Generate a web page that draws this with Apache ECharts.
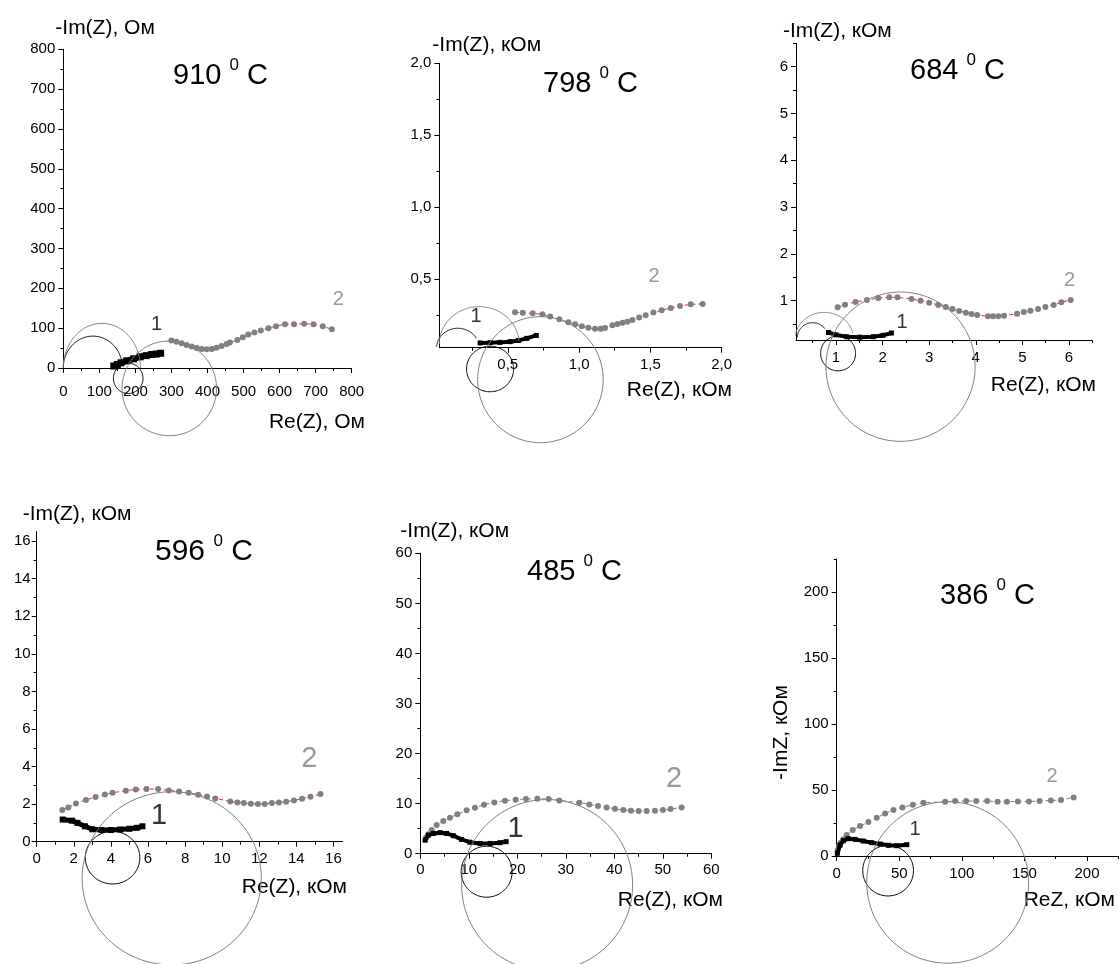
<!DOCTYPE html>
<html><head><meta charset="utf-8">
<script src="https://cdn.jsdelivr.net/npm/echarts@6/dist/echarts.min.js"></script>
<style>html,body{margin:0;padding:0;background:#fff}#c{width:1119px;height:964px}</style>
</head><body><div id="c"></div>
<script>
// ---------- DATA ----------
// 910 C  (Ом)
const s1_910 = [[140,5],[150,9],[160,13],[176,18],[195,23],[213,28],[230,31],[245,34],[258,35],[270,37]];
const s2_910 = [[300,69],[314,66],[328,62],[342,58],[356,54],[370,50],[384,48],[398,47],[412,48],[425,51],[439,55],[453,60],[462,64],[483,70],[498,77],[513,84],[530,89],[548,94],[569,100],[590,105],[615,110],[640,110],[668,111],[694,110],[720,105],[745,97]];
const arcB_910 = [[82,0,82,80,180,8],[180,-26,41,38,0,360]];
const arcG_910 = [[107,0,107,112,180,0],[294,-51,131,119,0,360]];
const xLab_910 = [0,100,200,300,400,500,600,700,800];
const xMin_910 = [50,150,250,350,450,550,650,750];
const yLab_910 = [0,100,200,300,400,500,600,700,800];
const yMin_910 = [50,150,250,350,450,550,650,750];
const lab_910 = [[259,110],[763,171]];

// 798 C (кОм)
const s1_798 = [[0.306,0.058],[0.376,0.060],[0.446,0.062],[0.516,0.067],[0.575,0.075],[0.633,0.090],[0.70,0.110]];
const s2_798 = [[0.551,0.271],[0.605,0.268],[0.675,0.264],[0.743,0.257],[0.797,0.241],[0.862,0.222],[0.925,0.201],[0.972,0.188],[1.019,0.174],[1.065,0.164],[1.112,0.157],[1.152,0.157],[1.182,0.162],[1.234,0.181],[1.269,0.190],[1.304,0.199],[1.339,0.206],[1.374,0.218],[1.421,0.234],[1.467,0.250],[1.521,0.269],[1.579,0.285],[1.643,0.301],[1.708,0.315],[1.783,0.326],[1.867,0.329]];
const arcB_798 = [[0.15,0.02,0.15,0.14,175,30],[0.376,-0.123,0.165,0.158,0,360]];
const arcG_798 = [[0.30,0.05,0.28,0.26,180,5],[0.729,-0.197,0.44,0.4375,0,360]];
const xLab_798 = [0.5,1.0,1.5,2.0];
const xMin_798 = [0.25,0.75,1.25,1.75];
const yLab_798 = [0.5,1.0,1.5,2.0];
const yMin_798 = [0.25,0.75,1.25,1.75];
const lab_798 = [[0.278,0.245],[1.526,0.523]];

// 684 C
const s1_684 = [[0.84,0.32],[1.0,0.27],[1.23,0.23],[1.51,0.22],[1.8,0.23],[2.01,0.26],[2.19,0.31]];
const s2_684 = [[1.036,0.858],[1.193,0.915],[1.421,0.972],[1.664,1.015],[1.907,1.058],[2.143,1.072],[2.321,1.072],[2.621,1.036],[2.814,1.001],[3.0,0.958],[3.193,0.908],[3.357,0.865],[3.5,0.823],[3.643,0.780],[3.786,0.744],[3.907,0.716],[4.029,0.694],[4.264,0.666],[4.371,0.666],[4.486,0.666],[4.607,0.680],[4.886,0.723],[5.029,0.758],[5.171,0.787],[5.336,0.822],[5.493,0.865],[5.671,0.908],[5.836,0.965],[6.036,1.015]];
const arcB_684 = [[0.5,0.2,0.33,0.33,177,38],[1.046,-0.125,0.375,0.374,0,360]];
const arcG_684 = [[0.75,0.2,0.62,0.55,174,12],[2.386,-0.41,1.6,1.595,0,360]];
const xLab_684 = [1,2,3,4,5,6];
const xMin_684 = [0.5,1.5,2.5,3.5,4.5,5.5,6.5];
const yLab_684 = [1,2,3,4,5,6];
const yMin_684 = [0.5,1.5,2.5,3.5,4.5,5.5,6.5];
const lab_684 = [[2.42,0.53],[6.01,1.44]];

// 596 C
const s1_596 = [[1.4,1.18],[1.9,1.12],[2.2,1.0],[2.6,0.82],[3.0,0.66],[3.5,0.62],[4.0,0.62],[4.5,0.65],[5.0,0.69],[5.4,0.74],[5.7,0.82]];
const s2_596 = [[1.381,1.684],[1.704,1.826],[2.117,2.039],[2.655,2.216],[3.175,2.376],[3.677,2.518],[4.090,2.606],[4.807,2.713],[5.345,2.784],[5.919,2.801],[6.547,2.801],[7.121,2.730],[7.677,2.677],[8.197,2.606],[8.700,2.500],[9.184,2.411],[9.632,2.305],[10.44,2.145],[10.82,2.092],[11.17,2.057],[11.55,2.021],[11.93,2.004],[12.30,2.004],[12.68,2.057],[13.06,2.092],[13.45,2.128],[13.87,2.199],[14.31,2.287],[14.76,2.394],[15.30,2.535]];
const arcB_596 = [[4.09,-0.85,1.47,1.40,0,360]];
const arcG_596 = [[7.28,-1.95,4.83,4.61,0,360]];
const xLab_596 = [0,2,4,6,8,10,12,14,16];
const xMin_596 = [1,3,5,7,9,11,13,15];
const yLab_596 = [0,2,4,6,8,10,12,14,16];
const yMin_596 = [1,3,5,7,9,11,13,15];
const lab_596 = [[6.6,1.35],[14.7,4.41]];

// 485 C
const s1_485 = [[1.0,2.7],[1.65,3.7],[2.7,4.05],[4.1,4.2],[5.4,4.05],[6.8,3.6],[8.5,2.85],[10.2,2.3],[12.3,2.05],[14.4,2.05],[16.4,2.2],[17.7,2.4]];
const s2_485 = [[1.17,3.20],[1.65,3.86],[2.34,4.73],[3.37,5.73],[4.74,6.52],[6.12,7.19],[7.63,7.86],[9.55,8.66],[11.27,9.19],[13.13,9.79],[15.26,10.25],[17.46,10.59],[19.66,10.79],[21.79,10.92],[24.12,10.99],[26.46,10.92],[28.66,10.65],[32.78,10.19],[34.85,9.85],[36.63,9.52],[38.42,9.25],[40.14,8.99],[41.86,8.72],[43.44,8.59],[45.02,8.52],[46.67,8.52],[48.38,8.59],[50.03,8.72],[51.61,8.92],[53.88,9.25]];
const arcB_485 = [[13.68,-3.6,5.26,5.09,0,360]];
const arcG_485 = [[26.15,-6.26,17.63,17.08,0,360]];
const xLab_485 = [0,10,20,30,40,50,60];
const xMin_485 = [5,15,25,35,45,55];
const yLab_485 = [0,10,20,30,40,50,60];
const yMin_485 = [5,15,25,35,45,55];
const lab_485 = [[19.66,4.86],[52.3,14.85]];

// 386 C
const s1_386 = [[0.5,2],[2.7,8.3],[5.3,11.6],[9.3,13.1],[14.7,12.6],[21.3,11.35],[28,10.1],[34.7,9.1],[41.3,8.1],[48,7.8],[56,8.6]];
const s2_386 = [[0.8,4.54],[1.87,7.57],[3.2,10.09],[5.33,12.61],[8.0,15.89],[12.8,19.67],[18.67,22.7],[25.33,25.73],[32.0,29.0],[38.67,32.28],[45.33,34.8],[52.53,36.82],[60.8,38.84],[69.33,40.35],[86.67,41.11],[94.67,41.61],[103.47,41.61],[111.47,41.61],[120.27,41.61],[128.53,41.11],[136.0,41.11],[144.8,41.36],[153.6,41.36],[162.13,41.61],[171.2,42.12],[179.2,42.37],[189.33,44.39]];
const arcB_386 = [[41.07,-11.1,20.27,19.17,0,360]];
const arcG_386 = [[88.67,-20.05,64.67,61.16,0,360]];
const xLab_386 = [0,50,100,150,200];
const xMin_386 = [25,75,125,175,225];
const yLab_386 = [0,50,100,150,200];
const yMin_386 = [25,75,125,175,225];
const lab_386 = [[62.7,20.2],[172,60.5]];

// ---------- LAYOUT / STYLE ----------
const FONT = '"Liberation Sans", Arial, sans-serif';
const panels = [
 {t:'910', s1:s1_910, s2:s2_910, aB:arcB_910, aG:arcG_910, xl:xLab_910, xm:xMin_910, yl:yLab_910, ym:yMin_910, lab:lab_910,
  grid:{left:63.3,top:49.3,width:288.4,height:318.7}, xr:[0,800], yr:[0,800], comma:false,
  xName:'Re(Z), Ом', yName:'-Im(Z), Ом', xMar:16, yMar:8, xNG:13.3, xNP:44, yNG:21, yNP:-8,
  title:{left:173,top:57,size:29}, labSize:20, red:true, bw:7},
 {t:'798', s1:s1_798, s2:s2_798, aB:arcB_798, aG:arcG_798, xl:xLab_798, xm:xMin_798, yl:yLab_798, ym:yMin_798, lab:lab_798,
  grid:{left:439.3,top:63.3,width:282.4,height:284.4}, xr:[0.02,2.0], yr:[0.025,2.0], comma:true,
  xName:'Re(Z), кОм', yName:'-Im(Z), кОм', xMar:10, yMar:8, xNG:10.3, xNP:32, yNG:18, yNP:-7,
  title:{left:543,top:65,size:29}, labSize:20, red:true, bw:5},
 {t:'684', s1:s1_684, s2:s2_684, aB:arcB_684, aG:arcG_684, xl:xLab_684, xm:xMin_684, yl:yLab_684, ym:yMin_684, lab:lab_684,
  grid:{left:796,top:43.3,width:296.3,height:296.7}, xr:[0.143,6.5], yr:[0.16,6.5], comma:false,
  xName:'Re(Z), кОм', yName:'-Im(Z), кОм', xMar:10, yMar:8, xNG:3.7, xNP:35, yNG:12, yNP:-13,
  title:{left:910,top:52,size:29}, labSize:20, red:true, bw:5},
 {t:'596', s1:s1_596, s2:s2_596, aB:arcB_596, aG:arcG_596, xl:xLab_596, xm:xMin_596, yl:yLab_596, ym:yMin_596, lab:lab_596,
  grid:{left:36.7,top:531.7,width:306,height:310}, xr:[0,16.5], yr:[0,16.5], comma:false,
  xName:'Re(Z), кОм', yName:'-Im(Z), кОм', xMar:10, yMar:6, xNG:4.3, xNP:35, yNG:17, yNP:-14,
  title:{left:155,top:533,size:30}, labSize:29, red:true, bw:6},
 {t:'485', s1:s1_485, s2:s2_485, aB:arcB_485, aG:arcG_485, xl:xLab_485, xm:xMin_485, yl:yLab_485, ym:yMin_485, lab:lab_485,
  grid:{left:420.3,top:553.3,width:291,height:300.4}, xr:[0,60], yr:[0,60], comma:false,
  xName:'Re(Z), кОм', yName:'-Im(Z), кОм', xMar:9, yMar:8, xNG:11.7, xNP:36, yNG:22, yNP:-20,
  title:{left:527,top:553,size:29}, labSize:29, red:false, bw:5},
 {t:'386', s1:s1_386, s2:s2_386, aB:arcB_386, aG:arcG_386, xl:xLab_386, xm:xMin_386, yl:yLab_386, ym:yMin_386, lab:lab_386,
  grid:{left:836.7,top:559,width:281.6,height:297}, xr:[0,225], yr:[0,225], comma:false,
  xName:'ReZ, кОм', yName:'-ImZ, кОм', xMar:10, yMar:8, xNG:-3.3, xNP:34, rotY:true,
  title:{left:940,top:577,size:29}, labSize:20, red:false, bw:5}
];

function arcRender(color){
  return function(params, api){
    const cx=api.value(0), cy=api.value(1), rx=api.value(2), ry=api.value(3), a0=api.value(4), a1=api.value(5);
    const pts=[]; const n=120;
    for(let k=0;k<=n;k++){
      const t=(a0+(a1-a0)*k/n)*Math.PI/180;
      pts.push(api.coord([cx+rx*Math.cos(t), cy+ry*Math.sin(t)]));
    }
    return {type:'polyline', shape:{points:pts}, style:{stroke:color, fill:null, lineWidth:1}};
  };
}

const grids=[], xAxes=[], yAxes=[], series=[], titles=[];
panels.forEach((p,i)=>{
  grids.push(Object.assign({containLabel:false}, p.grid));
  const fmt = v => p.comma ? Number(v).toFixed(1).replace('.',',') : String(v);
  const axisCommon = {type:'value', gridIndex:i, splitLine:{show:false}, scale:false};
  // main x
  xAxes.push(Object.assign({}, axisCommon, {
    min:p.xr[0], max:p.xr[1], position:'bottom',
    axisLine:{show:true, onZero:false, lineStyle:{color:'#000', width:1}},
    axisTick:{show:true, length:5, customValues:p.xl, lineStyle:{color:'#000'}},
    axisLabel:{show:true, customValues:p.xl, formatter:fmt, margin:p.xMar, color:'#000', fontSize:15, fontFamily:FONT},
    name:p.xName, nameLocation:'end', nameGap:p.xNG, nameMoveOverlap:false,
    nameTextStyle:{fontSize:21, color:'#000', fontFamily:FONT, align:'right', verticalAlign:'top', padding:[p.xNP,0,0,0]}
  }));
  // minor x
  xAxes.push(Object.assign({}, axisCommon, {
    min:p.xr[0], max:p.xr[1], position:'bottom',
    axisLine:{show:false, onZero:false},
    axisTick:{show:true, length:3, customValues:p.xm, lineStyle:{color:'#000'}},
    axisLabel:{show:false}
  }));
  const yMain = Object.assign({}, axisCommon, {
    min:p.yr[0], max:p.yr[1], position:'left',
    axisLine:{show:true, onZero:false, lineStyle:{color:'#000', width:1}},
    axisTick:{show:true, length:5, customValues:p.yl, lineStyle:{color:'#000'}},
    axisLabel:{show:true, customValues:p.yl, formatter:fmt, margin:p.yMar, color:'#000', fontSize:15, fontFamily:FONT},
    name:p.yName, nameMoveOverlap:false
  });
  if(p.rotY){
    yMain.nameLocation='middle'; yMain.nameRotate=90; yMain.nameGap=55;
    yMain.nameTextStyle={fontSize:21, color:'#000', fontFamily:FONT, align:'center', verticalAlign:'middle', padding:[0,50,0,0]};
  } else {
    yMain.nameLocation='end'; yMain.nameGap=p.yNG;
    yMain.nameTextStyle={fontSize:21, color:'#000', fontFamily:FONT, align:'left', verticalAlign:'middle', padding:[0,0,0,p.yNP]};
  }
  yAxes.push(yMain);
  yAxes.push(Object.assign({}, axisCommon, {
    min:p.yr[0], max:p.yr[1], position:'left',
    axisLine:{show:false, onZero:false},
    axisTick:{show:true, length:3, customValues:p.ym, lineStyle:{color:'#000'}},
    axisLabel:{show:false}
  }));
  const xi=2*i, yi=2*i;
  // series 2: grey dots with thin connecting dashed line
  series.push({type:'line', xAxisIndex:xi, yAxisIndex:yi, data:p.s2, symbol:'circle', symbolSize:6,
    itemStyle:{color:'#808080'}, lineStyle:{color:p.red?'#ff2020':'#808080', width:1, type:[4,3]}, z:2, silent:true});
  // series 1: black squares (dense)
  series.push({type:'line', xAxisIndex:xi, yAxisIndex:yi, data:p.s1, symbol:'rect', symbolSize:p.bw,
    itemStyle:{color:'#000'}, lineStyle:{color:'#000', width:p.bw-1}, z:3, silent:true});
  // fitted arcs / circles
  series.push({type:'custom', xAxisIndex:xi, yAxisIndex:yi, data:p.aB, renderItem:arcRender('#000'), clip:false, z:4, silent:true, encode:{x:0,y:1}});
  series.push({type:'custom', xAxisIndex:xi, yAxisIndex:yi, data:p.aG, renderItem:arcRender('#808080'), clip:false, z:4, silent:true, encode:{x:0,y:1}});
  // curve labels "1" and "2"
  series.push({type:'scatter', xAxisIndex:xi, yAxisIndex:yi, symbolSize:0, silent:true, z:5,
    data:[{value:p.lab[0], label:{formatter:'1', color:'#000'}},{value:p.lab[1], label:{formatter:'2', color:'#808080'}}],
    label:{show:true, position:'inside', fontSize:p.labSize, fontFamily:FONT}});
  // temperature title
  titles.push({text:'{a|'+p.t+' }{s|0}{a| C}', left:p.title.left, top:p.title.top, padding:0,
    textStyle:{fontWeight:'normal', rich:{
      a:{fontSize:p.title.size, lineHeight:p.title.size+8, color:'#000', fontFamily:FONT, fontWeight:'normal'},
      s:{fontSize:17, lineHeight:17, color:'#000', fontFamily:FONT, fontWeight:'normal', verticalAlign:'top'}
    }}});
});

const chart = echarts.init(document.getElementById('c'), null, {renderer:'canvas'});
chart.setOption({
  animation:false, backgroundColor:'#fff',
  title:titles, grid:grids, xAxis:xAxes, yAxis:yAxes, series:series
});
</script></body></html>
